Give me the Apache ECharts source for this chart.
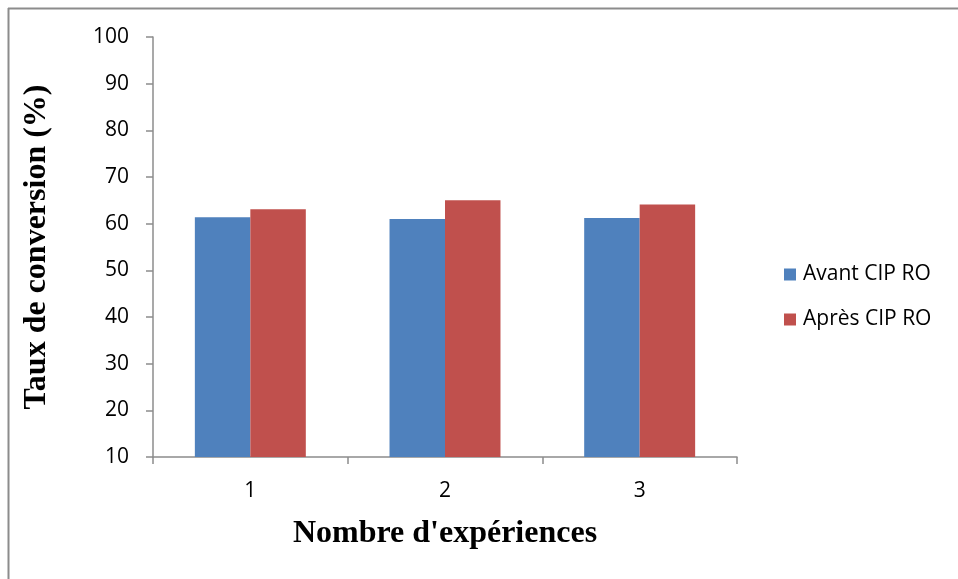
<!DOCTYPE html>
<html>
<head>
<meta charset="utf-8">
<script src="https://cdn.jsdelivr.net/npm/echarts@6/dist/echarts.min.js"></script>
<style>html,body{margin:0;padding:0;background:#fff;}#c{width:958px;height:579px;}</style>
</head>
<body>
<div id="c"></div>
<script>
const categories = ['1', '2', '3'];
const seriesNames = ['Avant CIP RO', 'Après CIP RO'];
const avantValues = [61.4, 61.0, 61.2];
const apresValues = [63.1, 65.0, 64.1];
const yTickMin = 10, yTickMax = 100, yTickStep = 10;

const chart = echarts.init(document.getElementById('c'), null, {renderer: 'canvas'});
const tickFont = '"Open Sans", "Liberation Sans", sans-serif';
const axisColor = '#8c8c8c';
chart.setOption({
  animation: false,
  backgroundColor: '#fff',
  graphic: [
    {type: 'line', shape: {x1: 8.5, y1: 8, x2: 8.5, y2: 579}, style: {stroke: '#8c8c8c', lineWidth: 2}},
    {type: 'line', shape: {x1: 8, y1: 8.5, x2: 958, y2: 8.5}, style: {stroke: '#8c8c8c', lineWidth: 2}}
  ],
  grid: {left: 153, right: 221, top: 37, bottom: 122, containLabel: false},
  legend: {
    orient: 'vertical', left: 779, top: 259,
    itemWidth: 12, itemHeight: 12, itemGap: 24,
    icon: 'rect',
    textStyle: {fontFamily: tickFont, fontSize: 21, color: '#000', padding: [0,0,0,2]},
    data: seriesNames
  },
  xAxis: {
    type: 'category', data: categories,
    name: "Nombre d'expériences", nameLocation: 'middle', nameGap: 61,
    nameTextStyle: {fontFamily: '"Liberation Serif", serif', fontWeight: 'bold', fontSize: 32, color: '#000'},
    axisLine: {lineStyle: {color: axisColor, width: 1.5}},
    axisTick: {show: true, length: 7, lineStyle: {color: axisColor, width: 1.5}},
    axisLabel: {fontFamily: tickFont, fontSize: 21, color: '#000', margin: 24},
    splitLine: {show: false}
  },
  yAxis: {
    type: 'value', min: yTickMin, max: yTickMax, interval: yTickStep,
    name: 'Taux de conversion (%)', nameLocation: 'middle', nameGap: 100,
    nameTextStyle: {fontFamily: '"Liberation Serif", serif', fontWeight: 'bold', fontSize: 32, color: '#000'},
    axisLine: {show: true, lineStyle: {color: axisColor, width: 1.5}},
    axisTick: {show: true, length: 7, lineStyle: {color: axisColor, width: 1.5}},
    axisLabel: {fontFamily: tickFont, fontSize: 21, color: '#000', margin: 24},
    splitLine: {show: false}
  },
  series: [
    {name: seriesNames[0], type: 'bar', data: avantValues, barGap: '0%', barCategoryGap: '43%',
     itemStyle: {color: '#4F81BD'}},
    {name: seriesNames[1], type: 'bar', data: apresValues, barGap: '0%', barCategoryGap: '43%',
     itemStyle: {color: '#C0504D'}}
  ]
});
</script>
</body>
</html>
